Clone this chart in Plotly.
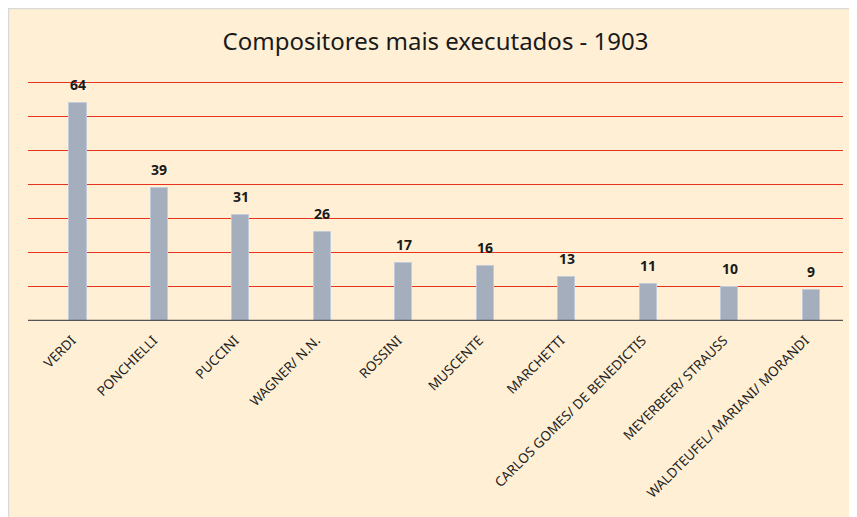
import plotly.graph_objects as go

categories = ["VERDI", "PONCHIELLI", "PUCCINI", "WAGNER/ N.N.", "ROSSINI", "MUSCENTE",
              "MARCHETTI", "CARLOS GOMES/ DE BENEDICTIS", "MEYERBEER/ STRAUSS",
              "WALDTEUFEL/ MARIANI/ MORANDI"]
values = [64, 39, 31, 26, 17, 16, 13, 11, 10, 9]
y_ticks = [10, 20, 30, 40, 50, 60, 70]

W, H = 849, 509
ml, mr, mt, mb = 20, 14, 71, 196
pw, ph = W - ml - mr, H - mt - mb

FONT = "Noto Sans, Open Sans, sans-serif"
BG = "#FFF0D5"

fig = go.Figure()
fig.add_trace(go.Bar(
    x=list(range(len(categories))), y=values,
    width=0.21,
    marker=dict(color="#A5AEBD", line=dict(color="#C3CBDA", width=1)),
))

for i, v in enumerate(values):
    fig.add_annotation(x=i, y=v, text=f"<b>{v}</b>", showarrow=False,
                       yanchor="bottom", yshift=7,
                       font=dict(family=FONT, size=14, color="#1a1a1a"))

fig.update_layout(
    width=W, height=H,
    margin=dict(l=ml, r=mr, t=mt, b=mb, autoexpand=False),
    paper_bgcolor=BG,
    plot_bgcolor="rgba(0,0,0,0)",
    showlegend=False,
    bargap=0,
    title=dict(text="Compositores mais executados - 1903", x=0.5, xref="paper",
               y=1 - 34 / H, yanchor="middle", xanchor="center",
               font=dict(family=FONT, size=24, color="#1a1a1a")),
    xaxis=dict(
        range=[-0.613, 9.39], automargin=False,
        tickmode="array", tickvals=list(range(len(categories))), ticktext=categories,
        tickangle=-45, showgrid=False, zeroline=False,
        showline=False, ticks="",
        ticklabelstandoff=8, ticklabelshift=-6,
        tickfont=dict(family=FONT, size=13.5, color="#222"),
    ),
    yaxis=dict(
        range=[0, 71], tickvals=y_ticks, showticklabels=False, automargin=False,
        showgrid=True, gridcolor="#E8321E", gridwidth=1.2,
        zeroline=False, showline=False, ticks="",
    ),
    shapes=[
        dict(type="line", xref="paper", yref="paper",
             x0=-ml / pw, x1=1 + mr / pw, y0=(ph + mt - 0.5) / ph, y1=(ph + mt - 0.5) / ph,
             line=dict(color="#D9D9D9", width=1.5)),
        dict(type="line", xref="paper", yref="paper",
             x0=(-ml + 0.5) / pw, x1=(-ml + 0.5) / pw, y0=-mb / ph, y1=(ph + mt) / ph,
             line=dict(color="#D9D9D9", width=1.5)),
        dict(type="line", xref="paper", yref="y", x0=0, x1=1, y0=0, y1=0,
             line=dict(color="#555555", width=2.5)),
    ],
)

fig.write_html("out.html")
